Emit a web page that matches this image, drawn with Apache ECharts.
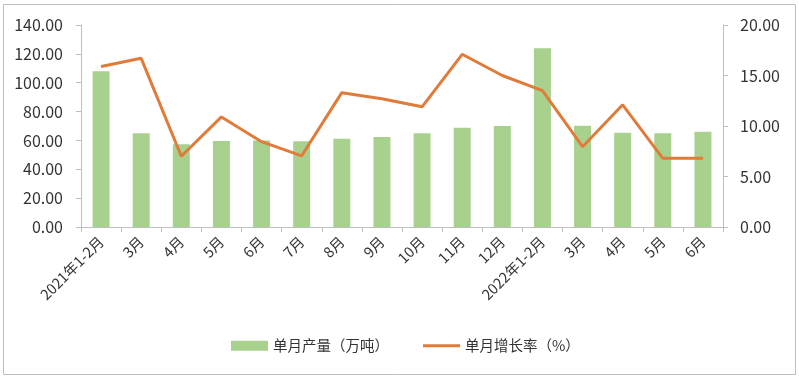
<!DOCTYPE html>
<html><head><meta charset="utf-8">
<script src="https://cdn.jsdelivr.net/npm/echarts@6/dist/echarts.min.js"></script>
<style>html,body{margin:0;padding:0;background:#fff}#c{width:799px;height:380px}</style>
</head><body><div id="c"></div>
<script>
const categories = ['2021年1-2月','3月','4月','5月','6月','7月','8月','9月','10月','11月','12月','2022年1-2月','3月','4月','5月','6月'];
const output = [108, 65, 57.3, 59.6, 60, 59.4, 61.2, 62.4, 65, 68.8, 70, 123.8, 70.2, 65.4, 65, 66];
const growth = [15.9, 16.7, 7.0, 10.9, 8.45, 7.05, 13.3, 12.7, 11.9, 17.1, 15.0, 13.5, 7.95, 12.1, 6.8, 6.8];
const leftTicks = {min: 0, max: 140, interval: 20};
const rightTicks = {min: 0, max: 20, interval: 5};

const font = '"Noto Sans CJK SC", "Noto Sans", sans-serif';
const chart = echarts.init(document.getElementById('c'));
chart.setOption({
  animation: false,
  textStyle: {fontFamily: font},
  graphic: [{type: 'rect', shape: {x: 3.5, y: 4.5, width: 792, height: 370}, style: {fill: 'none', stroke: '#bfbfbf', lineWidth: 1}, silent: true}],
  grid: {left: 81, right: 76, top: 25, bottom: 153},
  legend: {
    bottom: 22, left: 226, itemGap: 34, itemWidth: 37, itemHeight: 10,
    textStyle: {fontSize: 14.5, color: '#333', fontFamily: font},
    data: [
      {name: '单月产量（万吨）', icon: 'rect'},
      {name: '单月增长率（%）', icon: 'path://M0,0 L40,0 L40,3 L0,3 Z'}
    ]
  },
  xAxis: {
    type: 'category', data: categories,
    axisLine: {lineStyle: {color: '#bfbfbf'}},
    axisTick: {show: true, alignWithLabel: false, lineStyle: {color: '#bfbfbf'}, length: 5},
    axisLabel: {rotate: 45, fontSize: 14.5, color: '#333', interval: 0, margin: 12}
  },
  yAxis: [
    {type: 'value', min: leftTicks.min, max: leftTicks.max, interval: leftTicks.interval,
     axisLine: {show: true, lineStyle: {color: '#bfbfbf'}},
     axisTick: {show: true, length: 5, lineStyle: {color: '#bfbfbf'}},
     splitLine: {show: false},
     axisLabel: {formatter: v => v.toFixed(2), fontSize: 16, color: '#333', margin: 18}},
    {type: 'value', min: rightTicks.min, max: rightTicks.max, interval: rightTicks.interval,
     axisLine: {show: true, lineStyle: {color: '#bfbfbf'}},
     axisTick: {show: true, length: 5, lineStyle: {color: '#bfbfbf'}},
     splitLine: {show: false},
     axisLabel: {formatter: v => v.toFixed(2), fontSize: 16, color: '#333', margin: 17}}
  ],
  series: [
    {name: '单月产量（万吨）', type: 'bar', data: output, barWidth: 17, itemStyle: {color: '#a9d18e'}},
    {name: '单月增长率（%）', type: 'line', yAxisIndex: 1, data: growth, showSymbol: false, symbol: 'none',
     lineStyle: {color: '#e07b39', width: 3}, itemStyle: {color: '#e07b39'}}
  ]
});
</script></body></html>
